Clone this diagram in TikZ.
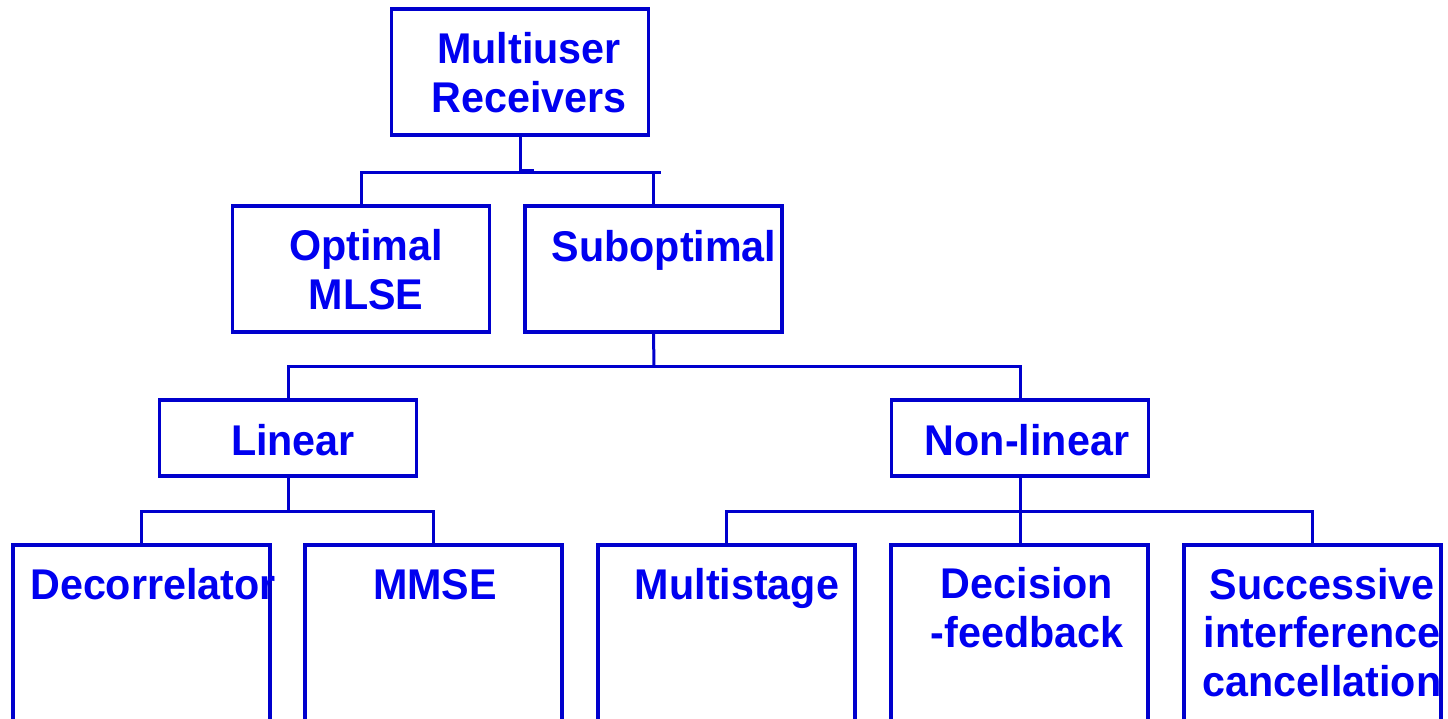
\documentclass[tikz,border=0pt]{standalone}
\usepackage{fontspec}
\setmainfont{Liberation Sans}[FakeStretch=0.96]
\definecolor{txtblue}{RGB}{0,0,240}
\definecolor{lineblue}{RGB}{0,0,205}
\begin{document}
\begin{tikzpicture}[x=1pt,y=-1pt,
  box/.style={draw=lineblue,line width=3.4pt,rectangle,inner sep=0pt,
              minimum width=257pt},
  tall/.style={box,minimum height=126pt},
  mid/.style={box,minimum height=76pt},
  deep/.style={box,minimum height=230pt},
  lbl/.style={text=txtblue,anchor=base,align=center,inner sep=0pt,
              font=\bfseries\fontsize{43}{48.5}\selectfont},
  wire/.style={draw=lineblue,line width=3pt}]
\clip (0,0) rectangle (1448,718);
\fill[white] (0,0) rectangle (1448,718);

% boxes
\node[tall] (mu)   at (520.25,72) {};
\node[tall] (opt)  at (361,269) {};
\node[tall] (sub)  at (653.5,269) {};
\node[mid]  (lin)  at (288,438) {};
\node[mid]  (non)  at (1020,438) {};
\node[deep] (dec)  at (141.5,660) {};
\node[deep] (mmse) at (433.5,660) {};
\node[deep] (mst)  at (726.5,660) {};
\node[deep] (dfb)  at (1019.5,660) {};
\node[deep] (sic)  at (1312.5,660) {};

% labels (anchored at the baseline of the last line)
\node[lbl] (t-mu)   at (529,112)  {Multiuser\\Receivers};
\node[lbl] (t-opt)  at (366,309)  {Optimal\\MLSE};
\node[lbl] (t-sub)  at (664,261)  {Suboptimal};
\node[lbl] (t-lin)  at (293,455)  {Linear};
\node[lbl] (t-non)  at (1027,455) {Non-linear};
\node[lbl] (t-dec)  at (153,599)  {Decorrelator};
\node[lbl] (t-mmse) at (435,599)  {MMSE};
\node[lbl] (t-mst)  at (737,599)  {Multistage};
\node[lbl] (t-dfb)  at (1027,647) {Decision\\-feedback};
\node[lbl] (t-sic)  at (1322,696) {Successive\\interference\\cancellation};

% bus coordinates
\coordinate (stub) at (534,170);
\coordinate (b1r)  at (661,172);
\coordinate (b2)   at (654,366);
\coordinate (b3l)  at (288,511);
\coordinate (b3r)  at (1020,511);

% connectors
\draw[wire] (mu.south) -- (mu.south |- stub) -- (stub);
\draw[wire] (opt.north) |- (b1r);
\draw[wire] (sub.north) -- (sub.north |- b1r);
\draw[wire] (sub.south) -- (b2);
\draw[wire] (lin.north) |- (b2) -| (non.north);
\draw[wire] (lin.south) -- (b3l);
\draw[wire] (dec.north) |- (b3l) -| (mmse.north);
\draw[wire] (non.south) -- (non.south |- dfb.north);
\draw[wire] (mst.north) |- (b3r) -| (sic.north);
\end{tikzpicture}
\end{document}
